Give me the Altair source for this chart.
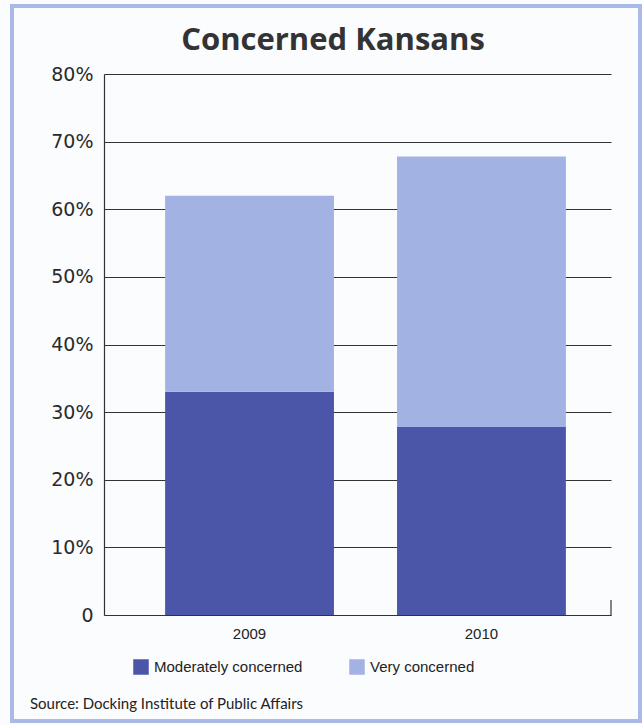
import altair as alt
import pandas as pd

years = ["2009", "2010"]
moderately = [0.33, 0.278]
very = [0.29, 0.40]
series = ["Moderately concerned", "Very concerned"]
colors = ["#4b56a8", "#a2b3e3"]
y_ticks = [0, 0.1, 0.2, 0.3, 0.4, 0.5, 0.6, 0.7, 0.8]

rows = []
for i, yr in enumerate(years):
    rows.append({"year": yr, "series": series[0], "value": moderately[i], "order": 0})
    rows.append({"year": yr, "series": series[1], "value": very[i], "order": 1})
df = pd.DataFrame(rows)

W, H = 507, 541

bars = alt.Chart(df).mark_bar(xOffset=8).encode(
    x=alt.X("year:N", title=None,
            scale=alt.Scale(paddingInner=0.272, paddingOuter=0.229),
            axis=alt.Axis(labelAngle=0, ticks=False, labelFont="Liberation Sans",
                          labelFontSize=15, labelColor="#222", labelPadding=11,
                          labelOffset=8, domainColor="#333", domainWidth=1.2, grid=False)),
    y=alt.Y("value:Q", stack="zero", title=None,
            scale=alt.Scale(domain=[0, 0.8], nice=False),
            axis=alt.Axis(values=y_ticks, labelExpr="datum.value == 0 ? '0' : format(datum.value, '.0%')",
                          ticks=False, labelFont="DejaVu Sans", labelFontSize=19,
                          labelColor="#2a2a2a", labelPadding=11, domainColor="#333",
                          domainWidth=1.2, gridColor="#333", gridWidth=1, gridOpacity=1)),
    color=alt.Color("series:N", title=None,
                    scale=alt.Scale(domain=series, range=colors),
                    legend=alt.Legend(orient="none", legendX=29, legendY=585,
                                      direction="horizontal", columns=2,
                                      symbolType="square", symbolSize=240,
                                      symbolStrokeWidth=0, labelFont="Liberation Sans",
                                      labelFontSize=15, labelColor="#222",
                                      columnPadding=46, labelOffset=5)),
    order=alt.Order("order:Q"),
)

deco = pd.DataFrame({"k": [0]})
end_tick = alt.Chart(deco).mark_rule(color="#333", strokeWidth=1.2).encode(
    x=alt.value(W), y=alt.value(H - 15), y2=alt.value(H))

frame = alt.Chart(deco).mark_rect(fill=None, stroke="#aab9e7", strokeWidth=4, clip=False).encode(
    x=alt.value(-92), x2=alt.value(536), y=alt.value(-68), y2=alt.value(647))

title_df = pd.DataFrame({"t": ["Concerned Kansans"]})
title = alt.Chart(title_df).mark_text(align="center", baseline="alphabetic", font="Open Sans",
                                      fontSize=31, fontWeight="bold", color="#333").encode(
    text="t:N", x=alt.value(229), y=alt.value(-24))

source_df = pd.DataFrame({"t": ["Source: Docking Institute of Public Affairs"]})
source = alt.Chart(source_df).mark_text(align="left", baseline="alphabetic", font="Lato",
                                        fontSize=15, color="#222").encode(
    text="t:N", x=alt.value(-74), y=alt.value(635))

chart = alt.layer(frame, bars, end_tick, title, source).properties(
    width=W, height=H,
    autosize=alt.AutoSizeParams(type="none"),
    padding={"left": 104, "top": 74, "right": 31, "bottom": 110},
    background="#fbfcfe",
).configure_view(stroke=None)

chart.save("out.html", embed_options={"renderer": "svg", "actions": False})
